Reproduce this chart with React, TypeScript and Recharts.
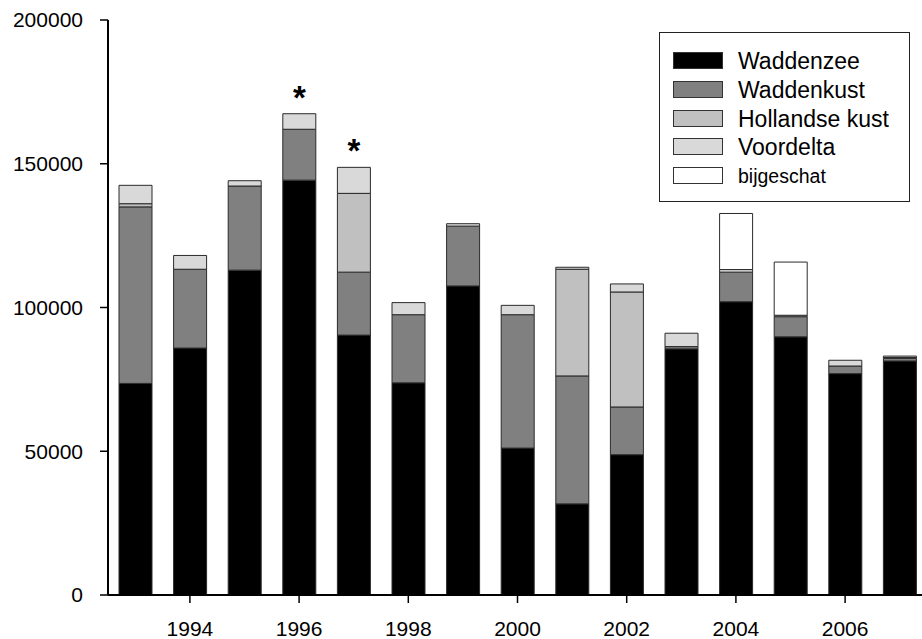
import React from "react";
import { BarChart, Bar, XAxis, YAxis, LabelList } from "recharts";

const years = [1993, 1994, 1995, 1996, 1997, 1998, 1999, 2000, 2001, 2002, 2003, 2004, 2005, 2006, 2007];
const waddenzee = [73600, 85900, 113000, 144300, 90400, 73800, 107500, 51100, 31700, 48800, 85600, 102000, 89800, 77000, 81400];
const waddenkust = [61400, 27400, 29250, 17700, 21900, 23700, 20800, 46400, 44500, 16600, 800, 10300, 7000, 2650, 900];
const hollandseKust = [1100, 0, 0, 0, 27400, 0, 0, 0, 37100, 40000, 0, 0, 0, 0, 300];
const voordelta = [6400, 4800, 1850, 5400, 9050, 4200, 850, 3250, 700, 2800, 4650, 900, 500, 2000, 500];
const bijgeschat = [0, 0, 0, 0, 0, 0, 0, 0, 0, 0, 0, 19500, 18500, 0, 0];
const notes = ["", "", "", "*", "*", "", "", "", "", "", "", "", "", "", ""];

const xTicks = [1994, 1996, 1998, 2000, 2002, 2004, 2006];
const yTicks = [0, 50000, 100000, 150000, 200000];

const seriesNames = ["Waddenzee", "Waddenkust", "Hollandse kust", "Voordelta", "bijgeschat"];
const seriesKeys = ["waddenzee", "waddenkust", "hollandse", "voordelta", "bijgeschat"];
const seriesColors = ["#000000", "#808080", "#c0c0c0", "#d9d9d9", "#ffffff"];

const data = years.map((year, i) => ({
  year,
  waddenzee: waddenzee[i],
  waddenkust: waddenkust[i],
  hollandse: hollandseKust[i],
  voordelta: voordelta[i],
  bijgeschat: bijgeschat[i],
  note: notes[i],
}));

const FONT = "'Liberation Sans', Arial, sans-serif";

const LegendBox = () => (
  <div
    style={{
      position: "absolute",
      left: 651,
      top: 24,
      width: 251,
      height: 170,
      border: "1.5px solid #222",
      background: "#fff",
      boxSizing: "border-box",
      fontFamily: FONT,
    }}
  >
    {seriesNames.map((name, i) => {
      const cy = 28 + i * 28.8;
      const small = i === 4;
      return (
        <React.Fragment key={name}>
          <div
            style={{
              position: "absolute",
              left: 13,
              top: cy - 9,
              width: 50,
              height: 17,
              background: seriesColors[i],
              border: "1px solid #333",
              boxSizing: "border-box",
            }}
          />
          <div
            style={{
              position: "absolute",
              left: 78,
              top: cy - (small ? 11 : 13),
              fontSize: small ? 19.5 : 23,
              lineHeight: small ? "22px" : "26px",
              color: "#000",
              whiteSpace: "nowrap",
            }}
          >
            {name}
          </div>
        </React.Fragment>
      );
    })}
  </div>
);

export default function App() {
  return (
    <div style={{ position: "fixed", left: 8, top: 8, width: 914, height: 631, overflow: "hidden", background: "#fff" }}>
      <BarChart
        width={929}
        height={631}
        data={data}
        margin={{ top: 12, right: 10, left: 0, bottom: 0 }}
        barSize={33}
      >
        <XAxis
          dataKey="year"
          type="number"
          domain={[1992.5, 2007.5]}
          ticks={xTicks}
          allowDataOverflow
          height={44}
          tickSize={8}
          tickMargin={18}
          axisLine={{ stroke: "#000", strokeWidth: 2 }}
          tickLine={{ stroke: "#000", strokeWidth: 1.5 }}
          tick={{ fill: "#000", fontSize: 21, fontFamily: FONT }}
        />
        <XAxis
          xAxisId="top"
          orientation="top"
          dataKey="year"
          type="number"
          domain={[1992.5, 2007.5]}
          height={0}
          tick={false}
          tickLine={false}
          axisLine={{ stroke: "#000", strokeWidth: 2 }}
        />
        <YAxis
          type="number"
          domain={[0, 200000]}
          ticks={yTicks}
          width={100}
          tickSize={8}
          tickMargin={17}
          axisLine={{ stroke: "#000", strokeWidth: 2 }}
          tickLine={{ stroke: "#000", strokeWidth: 1.5 }}
          tick={{ fill: "#000", fontSize: 21, fontFamily: FONT }}
          interval={0}
        />
        {seriesKeys.map((key, i) => (
          <Bar
            key={key}
            dataKey={key}
            name={seriesNames[i]}
            stackId="a"
            fill={seriesColors[i]}
            stroke="#2a2a2a"
            strokeWidth={1}
            isAnimationActive={false}
          >
            {key === "voordelta" ? (
              <LabelList
                dataKey="note"
                position="top"
                offset={5}
                style={{ fill: "#000", fontSize: 33, fontWeight: "bold", fontFamily: FONT }}
              />
            ) : null}
          </Bar>
        ))}
      </BarChart>
      <LegendBox />
    </div>
  );
}
